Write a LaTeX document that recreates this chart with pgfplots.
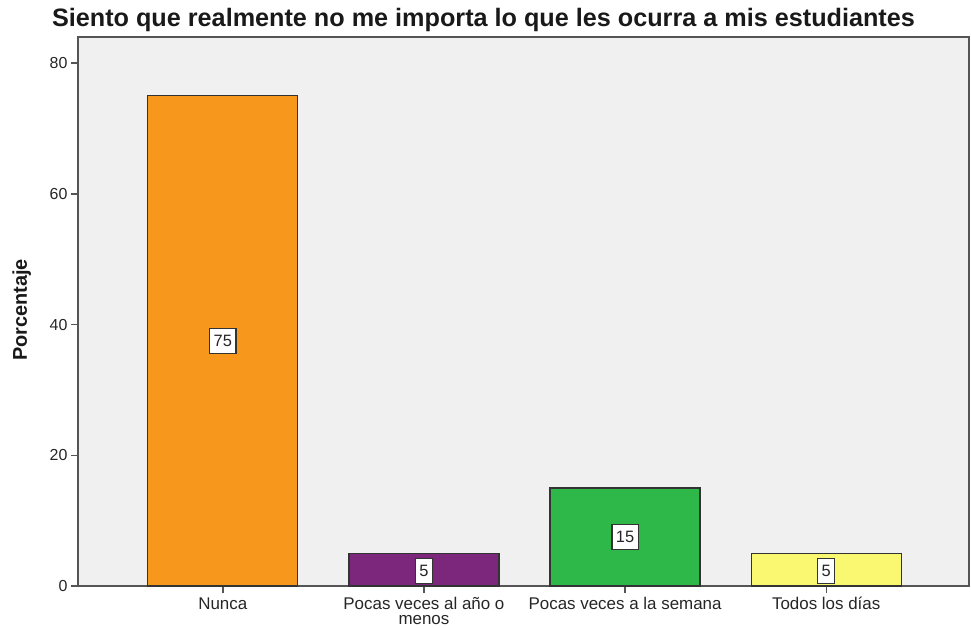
\documentclass[border=0pt]{standalone}
\usepackage{pgfplots}
\pgfplotsset{compat=1.18}
\usepackage{fontspec}
\setmainfont{Liberation Sans}
\definecolor{bgcol}{RGB}{240,240,240}
\definecolor{c1}{RGB}{247,152,29}
\definecolor{c2}{RGB}{124,39,124}
\definecolor{c3}{RGB}{46,184,74}
\definecolor{c4}{RGB}{250,247,112}
\definecolor{axcol}{RGB}{85,85,85}
\begin{document}
\begin{tikzpicture}[x=1bp,y=1bp]
\begin{axis}[
  at={(0,0)}, anchor=south west,
  scale only axis, width=891bp, height=549bp,
  xmin=-0.72, xmax=3.71, ymin=0, ymax=84,
  axis background/.style={fill=bgcol},
  axis line style={axcol, line width=1.4bp},
  xtick={0,1,2,3},
  xticklabels={Nunca,{Pocas veces al año o\\menos},Pocas veces a la semana,Todos los días},
  xticklabel style={align=center, font=\fontsize{17}{15}\selectfont, text=black!85, yshift=-1bp},
  ytick={0,20,40,60,80},
  yticklabel style={font=\fontsize{16}{16}\selectfont, text=black!85},
  /pgf/number format/assume math mode=true,
  xtick pos=bottom, ytick pos=left,
  tick align=outside, major tick length=7bp,
  tick style={axcol, line width=1.4bp},
]
\addplot[ybar, bar width=150bp, bar shift=0pt, fill=c1, draw=black!80, line width=1.3bp] coordinates {(0,75)};
\addplot[ybar, bar width=150bp, bar shift=0pt, fill=c2, draw=black!80, line width=1.3bp] coordinates {(1,5)};
\addplot[ybar, bar width=150bp, bar shift=0pt, fill=c3, draw=black!80, line width=1.3bp] coordinates {(2,15)};
\addplot[ybar, bar width=150bp, bar shift=0pt, fill=c4, draw=black!80, line width=1.3bp] coordinates {(3,5)};
\addplot[only marks, mark=none, point meta=explicit symbolic,
  nodes near coords,
  every node near coord/.style={anchor=center, draw=black!80, fill=white, line width=1.3bp,
    inner xsep=4bp, inner ysep=2bp, minimum height=25bp, text=black!85,
    font=\fontsize{16.5}{16}\selectfont}]
  coordinates {(0,37.5)[75] (1,2.3)[5] (2,7.5)[15] (3,2.3)[5]};
\end{axis}
\node[anchor=base, font=\bfseries\fontsize{25.3}{27}\selectfont, text=black!90] at (405.5,559) {Siento que realmente no me importa lo que les ocurra a mis estudiantes};
\node[rotate=90, anchor=base, font=\bfseries\fontsize{20}{20}\selectfont, text=black!90] at (-51,276) {Porcentaje};
\path[use as bounding box] (-78,-42) rectangle (893,586);
\end{tikzpicture}
\end{document}
